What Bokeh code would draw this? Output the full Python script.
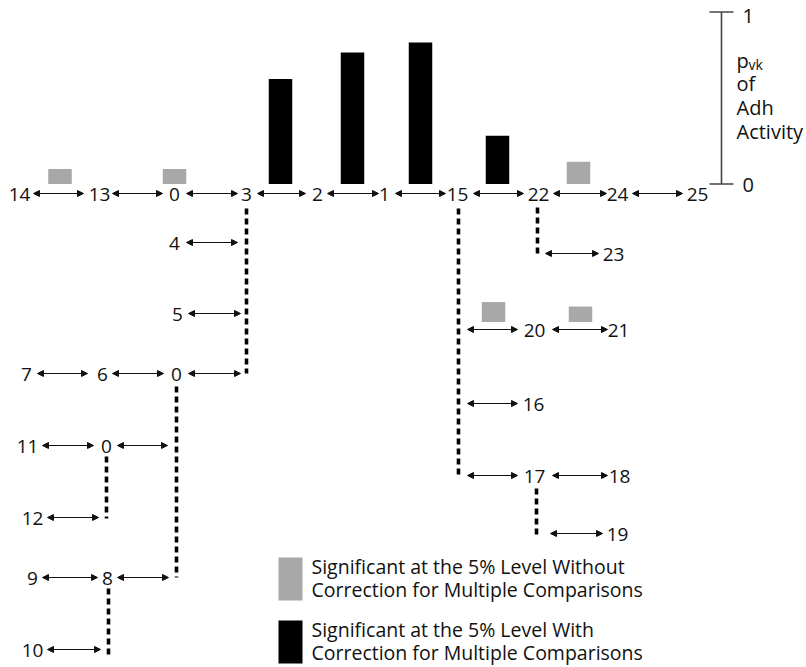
from bokeh.plotting import figure
from bokeh.models import Range1d, ColumnDataSource, Arrow, NormalHead
from bokeh.embed import file_html
from bokeh.resources import INLINE
from bokeh.core.properties import value

# ---------------- data ----------------
# clade / haplotype labels of the nested network
node_labels = ["14", "13", "0", "3", "2", "1", "15", "22", "24", "25",
               "4", "5", "7", "6", "0", "11", "0", "12", "9", "8", "10",
               "23", "20", "21", "16", "17", "18", "19"]
# p_vk of Adh activity for the branches tested along the top row
top_p = [0.087, 0.087, 0.61, 0.765, 0.823, 0.28, 0.13]
top_sig = ["without", "without", "with", "with", "with", "with", "without"]
# p_vk for branches below clade 15 (15-20 and 20-21)
mid_p = [0.116, 0.09]
mid_sig = ["without", "without"]
scale_ticks = [0, 1]
scale_tick_labels = ["0", "1"]
legend_lines = [["Significant at the 5% Level Without", "Correction for Multiple Comparisons"],
                ["Significant at the 5% Level With", "Correction for Multiple Comparisons"]]
legend_sig = ["without", "with"]

# ---------------- layout (diagram positions, screen-like units) ----------------
node_x = [19, 99, 174, 246, 317, 384, 457, 538, 617, 697,
          174, 177, 26, 102, 176, 27, 106, 32, 32, 107, 32,
          613, 534, 618, 533, 534, 619, 617]
node_row = [193] * 10 + [242, 313, 373, 373, 373, 445, 445, 517, 577, 577, 649,
                         253, 329, 329, 403, 475, 475, 533]
arrows = [  # x_start, x_end, row
    (33, 83, 193), (112, 162, 193), (186, 237, 193), (257, 305, 193), (327, 378, 193),
    (395, 445, 193), (473, 523, 193), (553, 606, 193), (632, 682, 193),
    (186, 237, 242), (188, 240, 313),
    (37, 87, 373), (112, 163, 373), (188, 240, 373),
    (42, 93, 445), (117, 167, 445), (47, 98, 517),
    (42, 97, 577), (117, 168, 577), (47, 100, 649),
    (545, 598, 253), (467, 517, 329), (552, 607, 329), (467, 517, 403),
    (467, 517, 475), (552, 607, 475), (550, 602, 533),
]
dotted = [  # x, y_top, y_bottom
    (246, 208, 373), (176, 386, 577), (106, 456, 518), (108, 588, 656),
    (458, 208, 477), (536, 488, 535), (537, 207, 253),
]
top_bar_x = [59.5, 174, 280, 352, 420, 497, 578]
mid_bar_x = [493, 580]
BAR_W = 23.5
TOP_BASE, MID_BASE = 183.5, 321.5
P_PIX = 172.0
COL = {"without": "#a8a8a8", "with": "#000000"}

W, H = 806, 667
X0, X1 = 0, 806
Y_TOP, Y_BOT = 0, 667

p = figure(width=W, height=H, x_range=Range1d(X0, X1), y_range=Range1d(Y_BOT, Y_TOP),
           x_axis_type=None, y_axis_type=None, toolbar_location=None,
           output_backend="svg", min_border=0, outline_line_color=None,
           background_fill_color="white", border_fill_color="white")
p.grid.visible = False


def p_range(base):
    return Range1d((base - Y_BOT) / P_PIX, (base - Y_TOP) / P_PIX)


p.extra_y_ranges = {"p_top": p_range(TOP_BASE), "p_mid": p_range(MID_BASE)}

FONT = value("Open Sans")
TXT = "#111111"

# bars
p.vbar(x=top_bar_x, width=BAR_W, bottom=0, top=top_p,
       fill_color=[COL[s] for s in top_sig], line_color=None, y_range_name="p_top")
p.vbar(x=mid_bar_x, width=BAR_W, bottom=0, top=mid_p,
       fill_color=[COL[s] for s in mid_sig], line_color=None, y_range_name="p_mid")

# scale bar
p.segment(x0=[721], y0=[scale_ticks[0]], x1=[721], y1=[scale_ticks[-1]],
          line_color="#444444", line_width=1.6, y_range_name="p_top")
p.segment(x0=[709] * len(scale_ticks), x1=[733] * len(scale_ticks), y0=scale_ticks, y1=scale_ticks,
          line_color="#444444", line_width=1.6, y_range_name="p_top")
p.text(x=[742] * len(scale_ticks), y=scale_ticks, text=scale_tick_labels, y_range_name="p_top",
       y_offset=[1, 4],
       text_font=FONT, text_font_size="20px", text_baseline="middle", text_align="left",
       text_color=TXT)

# side label
p.text(x=[736], y=[60], text=["p"], text_font=FONT, text_font_size="20px",
       text_baseline="middle", text_color=TXT)
p.text(x=[748], y=[64], text=["vk"], text_font=FONT, text_font_size="14px",
       text_baseline="middle", text_color=TXT)
p.text(x=[736] * 3, y=[83, 107, 131], text=["of", "Adh", "Activity"], text_font=FONT,
       text_font_size="20px", text_baseline="middle", text_color=TXT)

# dotted links
p.segment(x0=[d[0] for d in dotted], y0=[d[1] for d in dotted],
          x1=[d[0] for d in dotted], y1=[d[2] for d in dotted],
          line_color="black", line_width=3.6, line_dash="6 4", line_cap="butt")

# arrows
asrc = ColumnDataSource(dict(x0=[a[0] for a in arrows], x1=[a[1] for a in arrows],
                             y=[a[2] for a in arrows]))
p.add_layout(Arrow(start=NormalHead(size=6, fill_color="#111111", line_color="#111111", line_width=1),
                   end=NormalHead(size=6, fill_color="#111111", line_color="#111111", line_width=1),
                   x_start="x0", y_start="y", x_end="x1", y_end="y", source=asrc,
                   line_color="#111111", line_width=1.2))

# node labels
p.text(x=node_x, y=[r + 1 for r in node_row], text=node_labels, text_font=FONT,
       text_font_size="19px", text_align="center", text_baseline="middle",
       text_color=TXT)

# legend
leg_top = [557, 620]
p.quad(left=[278, 278], right=[302, 302], top=leg_top, bottom=[t + 43 for t in leg_top],
       fill_color=[COL[s] for s in legend_sig], line_color=None)
lx, ly = [], []
ltxt = []
for t, lines in zip(leg_top, legend_lines):
    for k, line in enumerate(lines):
        lx.append(311)
        ly.append(t + 9 + 23 * k)
        ltxt.append(line)
p.text(x=lx, y=ly, text=ltxt, text_font=FONT, text_font_size="19.5px",
       text_baseline="middle", text_align="left", text_color=TXT)

open("out.html", "w").write(file_html(p, INLINE))
